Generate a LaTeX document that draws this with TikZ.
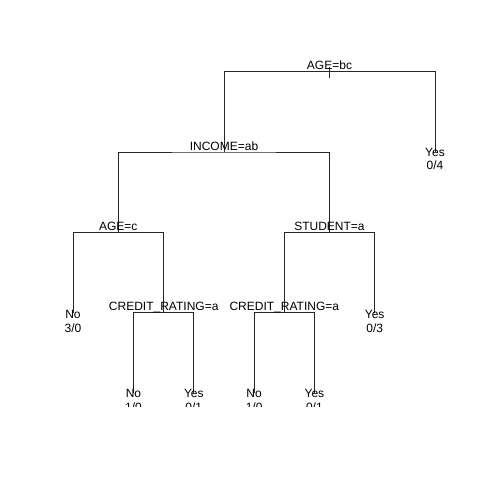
\documentclass[tikz,border=0pt]{standalone}
\usepackage{fontspec}
\setmainfont{Liberation Sans}
\begin{document}
\begin{tikzpicture}[x=1pt,y=-1pt,
  edge/.style={draw=black!85,line width=0.8pt},
  split/.style={anchor=base,inner sep=0pt,font=\fontsize{12}{14}\selectfont},
  leaf/.style={anchor=north,inner sep=0pt,align=center,font=\fontsize{12}{13.5}\selectfont}]
\useasboundingbox[fill=white] (0,0) rectangle (480,480);
\begin{scope}
\clip (0,0) rectangle (480,406);
% tree positions
\coordinate (root) at (329.5,71.7);
\coordinate (inc) at (224,152);
\coordinate (agec) at (118.3,232.3);
\coordinate (stu) at (329.5,232.3);
\coordinate (crl) at (163.7,312.6);
\coordinate (crr) at (284.3,312.6);
\coordinate (l1) at (73,312.6);
\coordinate (l2) at (133.5,393);
\coordinate (l3) at (193.8,393);
\coordinate (l4) at (254.1,393);
\coordinate (l5) at (314.4,393);
\coordinate (l6) at (374.7,312.6);
\coordinate (l7) at (435,152);
\coordinate (stemtop) at (329.5,67);
\coordinate (stembot) at (329.5,78);
% connectors
\draw[edge] (stemtop) -- (stembot);
\draw[edge] (inc) |- (root) -| (l7);
\draw[edge] (agec) |- (inc) -| (stu);
\draw[edge] (l1) |- (agec) -| (crl);
\draw[edge] (crr) |- (stu) -| (l6);
\draw[edge] (l2) |- (crl) -| (l3);
\draw[edge] (l4) |- (crr) -| (l5);
% split labels
\node[split] (troot) at ([yshift=2pt]root) {AGE=bc};
\node[split] (tinc) at ([yshift=2pt]inc) {INCOME=ab};
\node[split] (tagec) at ([yshift=2pt]agec) {AGE=c};
\node[split] (tstu) at ([yshift=2pt]stu) {STUDENT=a};
\node[split] (tcrl) at ([yshift=2pt]crl) {CREDIT\_RATING=a};
\node[split] (tcrr) at ([yshift=2pt]crr) {CREDIT\_RATING=a};
% leaf labels
\node[leaf] (t1) at ([yshift=2.5pt]l1) {No\\3/0};
\node[leaf] (t2) at ([yshift=3.5pt]l2) {No\\1/0};
\node[leaf] (t3) at ([yshift=3.5pt]l3) {Yes\\0/1};
\node[leaf] (t4) at ([yshift=3.5pt]l4) {No\\1/0};
\node[leaf] (t5) at ([yshift=3.5pt]l5) {Yes\\0/1};
\node[leaf] (t6) at ([yshift=2.5pt]l6) {Yes\\0/3};
\node[leaf] (t7) at ([yshift=4pt]l7) {Yes\\0/4};
\end{scope}
\end{tikzpicture}
\end{document}
